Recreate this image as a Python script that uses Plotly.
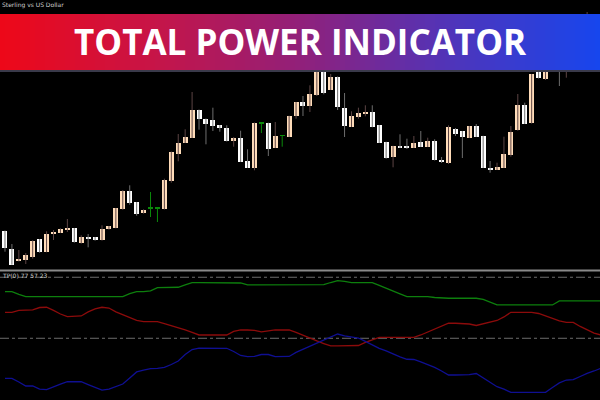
import plotly.graph_objects as go

# ---------------- data ----------------
opens = [38.7, 21, 9, 10, 12.7, 30.7, 18, 35.7, 37.3, 40, 41.7, 26.7, 33.3, 32.7, 29.7, 40.7, 42, 60.7, 79.3, 67.7,
         56.7, 61.3, 61.3, 61, 89, 115.7, 127.3, 132.3, 160, 151, 150, 144.7, 142.3, 129.3, 132, 109, 102, 146.7, 147, 122.3,
         134, 133.3, 153.7, 167.7, 164, 175.3, 198, 180.3, 192.7, 162.3, 143.3, 153.3, 156, 158, 144.7, 128, 112.7, 124, 124, 122.3,
         128, 123.3, 129, 110.3, 107.3, 141.3, 138.7, 132.3, 143.7, 134, 102, 100.3, 102.3, 114.7, 139.7, 165.3, 146.7, 205, 190.7, 210,
         222, 206, 224, 236, 228, 248, 238]
highs = [39.5, 26, 20, 17, 29.8, 31, 38.7, 40, 41.7, 51, 42, 34.7, 36, 33, 44.7, 44, 62, 80, 84.7, 68,
         60.7, 78, 62, 91.3, 118.5, 136, 140.7, 178, 160.5, 151.5, 162.3, 145, 144.7, 133, 139.3, 120.7, 147.5, 146.7, 147.3, 148,
         134, 154.3, 168, 174, 184.7, 205, 203, 196, 193.5, 177, 158.7, 162.3, 164.7, 164.7, 145, 128.3, 124.3, 135.7, 131.3, 134,
         139, 132.3, 130.7, 113, 144.7, 142, 139, 144, 146, 134.3, 109, 107.3, 133.3, 144, 176, 167.3, 196, 208, 214, 226,
         228, 232, 240, 242, 258, 252, 250]
lows = [18.3, 5.3, 8.5, 6, 11.3, 17.3, 17.7, 30, 37, 38, 27.3, 26.3, 22.7, 29.3, 29.3, 40.3, 41.7, 60.3, 65.3, 54.3,
        56.3, 53, 48, 60.5, 87.3, 108.7, 127, 132, 140.3, 125.7, 139, 138.3, 128.5, 123.3, 108, 102, 99.7, 137, 114, 122,
        123.3, 133, 151.3, 154, 158, 174, 175.7, 180, 160, 133, 143, 151.3, 153.7, 142.7, 127, 111.3, 102.7, 122, 121, 122,
        123, 123, 109.5, 107, 106, 134, 112, 132, 133, 102, 97.3, 100, 102, 113.3, 139.3, 146, 146.3, 191.5, 190, 205,
        184, 192.3, 220, 225, 224, 232, 234]
closes = [22.3, 5.3, 10.7, 14.7, 29.3, 17.7, 36, 37.7, 40.7, 41.7, 28.3, 33.3, 31.3, 29.7, 40.7, 43.7, 61.7, 79.3, 66.7, 56.3,
          60.3, 61.3, 61.3, 89.7, 118, 127, 133.3, 160, 150.7, 146, 144, 141.7, 129, 132, 108.3, 102.3, 147, 146.7, 121, 134,
          134, 154, 167.7, 164, 175.7, 198, 177.3, 193.3, 162.7, 144, 154, 157.3, 158, 143, 127.3, 112.3, 124, 122.3, 122.3, 127,
          123.3, 129, 109.7, 107.7, 142.7, 136, 133.3, 143.7, 133.3, 102.3, 100.3, 103, 116.3, 138.3, 165.3, 146.3, 195.7, 192, 210, 220,
          206, 224, 236, 228, 248, 238, 245]

power_green = [88.2, 88.2, 85.9, 84.1, 84.1, 84.1, 84.1, 84.1, 84.1, 84.1, 84.1, 84.1, 84.1, 84.1, 84.1, 84.1, 84.1, 84.1,
               86.5, 88.2, 88.2, 88.8, 91.5, 91.5, 91.5, 91.8, 93.7, 95.6, 95.6, 95.6, 95.6, 95.6, 95.6, 95.6,
               95.3, 93.7, 93.7, 93.7, 93.7, 93.7, 93.7, 93.7, 93.7, 93.7, 93.7, 93.7, 93.9, 95.7, 97.2, 96.6,
               95.6, 95.6, 95.6, 95.6, 93.3, 90.8, 88.8, 86.3, 84.1, 84.1, 84.1, 84.1, 83.4, 82.8, 82.8, 82.8,
               82.8, 82.8, 82.8, 81.8, 79.3, 77.3, 77.3, 77.3, 77.3, 77.3, 77.3, 77.3, 77.3, 77.3, 80.6, 80.6,
               80.6, 80.6, 80.6, 80.6, 80.6]
power_red = [71.3, 71.3, 72.8, 73.2, 73.2, 75.2, 75.4, 72.8, 69.9, 67.7, 67.7, 68.3, 71.6, 74.0, 75.4, 74.8, 71.6, 69.1, 66.6, 64.6,
             63.6, 63.6, 63.6, 62.1, 60.5, 58.9, 56.8, 54.8, 52.7, 52.7, 52.7, 52.7, 52.7, 55.6, 56.8, 56.8, 56.4, 55.2, 56.0, 56.8,
             56.8, 56.8, 54.8, 52.3, 50.0, 47.8, 45.7, 43.7, 43.7, 43.7, 43.7, 44.1, 46.6, 49.0, 50.8, 50.8, 50.8, 50.8, 50.8, 50.8,
             52.7, 55.2, 57.6, 60.1, 62.3, 62.3, 62.3, 61.7, 60.5, 61.7, 63.4, 64.6, 67.5, 71.3, 71.3, 71.3, 71.3, 70.3, 68.3, 66.2,
             64.2, 63.1, 63.0, 59.7, 56.8, 54.3, 52.7]
power_blue = [17.2, 17.2, 14.2, 10.9, 10.9, 8.4, 8.0, 10.5, 12.5, 14.4, 14.4, 14.4, 12.1, 9.7, 7.6, 8.4, 10.5, 12.5, 17.5, 22.4,
              24.0, 25.2, 25.4, 26.1, 28.5, 31.4, 36.7, 40.8, 42.0, 41.8, 41.8, 41.8, 41.8, 39.2, 35.9, 34.9, 35.1, 36.7, 36.7, 34.9,
              34.9, 35.1, 38.4, 41.0, 43.3, 45.9, 48.6, 51.3, 53.5, 51.9, 50.8, 50.2, 47.4, 44.5, 41.8, 39.6, 37.1, 34.7, 32.8, 32.6,
              30.6, 28.5, 26.1, 23.2, 19.9, 19.9, 19.9, 20.3, 21.1, 17.5, 13.8, 10.3, 8.4, 5.7, 5.7, 5.7, 5.7, 5.7, 5.7, 9.7,
              13.4, 15.8, 16.2, 18.7, 21.3, 23.2, 25.4]
levels = [100, 50]

title_text = "TOTAL POWER INDICATOR"
symbol_text = "Sterling vs US Dollar"
ind_label = "TP(0) 77 57 23"

# ---------------- styles ----------------
BULL = "#ffdcb9"
BEAR = "#ffffff"
DOJI = "#0b8a0b"
WICK_BULL = "#5c4444"
WICK_BEAR = "#6e6e6e"

n = len(opens)
idx = list(range(n))

fig = go.Figure()

# wicks
groups = {"bull": ([], []), "bear": ([], []), "doji": ([], [])}
kinds = []
for i in idx:
    o, c = opens[i], closes[i]
    k = "doji" if o == c else ("bull" if c > o else "bear")
    kinds.append(k)
    gx, gy = groups[k]
    gx += [i, i, None]
    gy += [lows[i], highs[i], None]
for k, col in (("bull", WICK_BULL), ("bear", WICK_BEAR), ("doji", DOJI)):
    fig.add_trace(go.Scatter(x=groups[k][0], y=groups[k][1], mode="lines",
                             line=dict(color=col, width=1), hoverinfo="skip",
                             showlegend=False, xaxis="x", yaxis="y"))

# bodies
bases = [min(opens[i], closes[i]) for i in idx]
heights = [max(abs(closes[i] - opens[i]), 0.9) for i in idx]
colors = [BULL if k == "bull" else (BEAR if k == "bear" else DOJI) for k in kinds]
fig.add_trace(go.Bar(x=idx, y=heights, base=bases, width=0.72,
                     marker=dict(color=colors, line=dict(width=0)),
                     showlegend=False, hoverinfo="skip", xaxis="x", yaxis="y"))

# indicator lines
for vals, col in ((power_green, "#0d7f0d"), (power_red, "#8c0b0b"), (power_blue, "#0f0f92")):
    fig.add_trace(go.Scatter(x=idx, y=vals, mode="lines", line=dict(color=col, width=1.3),
                             showlegend=False, hoverinfo="skip", xaxis="x", yaxis="y2"))

shapes = []
# level lines
for lv in levels:
    shapes.append(dict(type="line", xref="paper", yref="y2", x0=0, x1=1, y0=lv, y1=lv,
                       line=dict(color="#6c6c6c", width=1, dash="dashdot"), layer="below"))
# splitter
shapes.append(dict(type="rect", xref="paper", yref="paper", x0=0, x1=1,
                   y0=1 - 271.5 / 400, y1=1 - 269.5 / 400,
                   line=dict(width=0), fillcolor="#8a8a8a", layer="above"))

# gradient banner
stops = [(0.0, (238, 8, 24)), (0.25, (200, 20, 70)), (0.5, (145, 32, 122)),
         (0.75, (80, 52, 185)), (1.0, (22, 70, 238))]

def grad(t):
    for (t0, c0), (t1, c1) in zip(stops[:-1], stops[1:]):
        if t0 <= t <= t1:
            f = (t - t0) / (t1 - t0)
            return "rgb(%d,%d,%d)" % tuple(round(a + (b - a) * f) for a, b in zip(c0, c1))
    return "rgb(%d,%d,%d)" % stops[-1][1]

N = 120
for s in range(N):
    x0 = s / N
    x1 = (s + 1) / N + 0.002
    shapes.append(dict(type="rect", xref="paper", yref="paper", x0=x0, x1=min(x1, 1.0),
                       y0=1 - 70 / 400, y1=1 - 14 / 400, line=dict(width=0),
                       fillcolor=grad((s + 0.5) / N), layer="above"))
shapes.append(dict(type="rect", xref="paper", yref="paper", x0=0, x1=1,
                   y0=1 - 72 / 400, y1=1 - 70 / 400, line=dict(width=0),
                   fillcolor="#3a3a4a", layer="above"))

annotations = [
    dict(text="<b>" + title_text + "</b>", xref="paper", yref="paper", x=0.5, y=1 - 41 / 400,
         xanchor="center", yanchor="middle", showarrow=False,
         font=dict(family="Open Sans", size=35, color="white")),
    dict(text=symbol_text, xref="paper", yref="paper", x=0.0, y=1 - 5 / 400,
         xanchor="left", yanchor="middle", showarrow=False,
         font=dict(family="DejaVu Sans", size=6, color="#cfcfcf")),
    dict(text=ind_label, xref="paper", yref="paper", x=0.0, y=1 - 275.5 / 400,
         xanchor="left", yanchor="middle", showarrow=False,
         font=dict(family="DejaVu Sans", size=6, color="#cfcfcf")),
]

fig.update_layout(
    width=600, height=400,
    margin=dict(l=0, r=0, t=0, b=0),
    paper_bgcolor="#000000", plot_bgcolor="#000000",
    showlegend=False, bargap=0,
    xaxis=dict(range=[-0.72, 85.86], visible=False, fixedrange=True),
    yaxis=dict(domain=[1 - 269 / 400, 1], range=[1, 270], visible=False, fixedrange=True),
    yaxis2=dict(domain=[0, 1 - 272 / 400], range=[-0.57, 104.3], visible=False, fixedrange=True, anchor="x"),
    shapes=shapes,
    annotations=annotations,
)

fig.write_html("out.html", config={"displayModeBar": False},
               post_script="document.body.style.margin='0';document.body.style.background='#000';")
